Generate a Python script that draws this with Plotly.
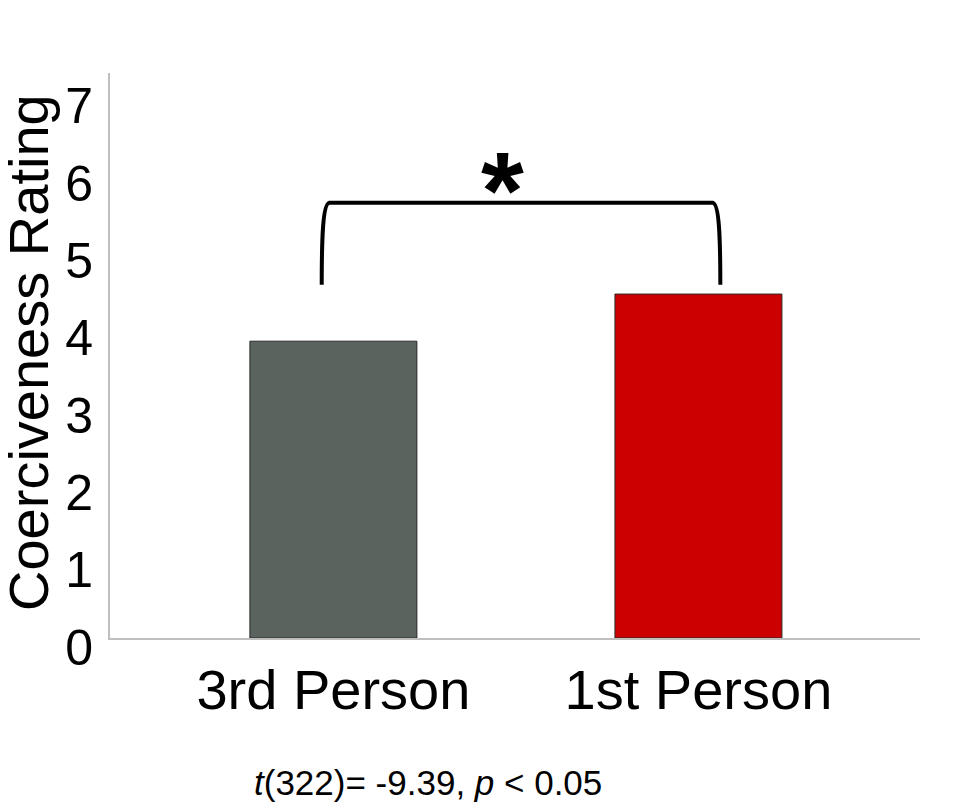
import plotly.graph_objects as go

# ---- data ----
categories = ["3rd Person", "1st Person"]
ratings = [3.84, 4.45]
bar_colors = ["#5A635E", "#CC0000"]
y_ticks = [0, 1, 2, 3, 4, 5, 6, 7]
y_title = "Coerciveness Rating"
stats_text = "<i>t</i>(322)= -9.39, <i>p</i> < 0.05"
sig_mark = "*"

# bracket geometry (data units)
bracket_left, bracket_right = -0.032, 1.06
bracket_base, bracket_top = 4.57, 5.63

FONT = "Liberation Sans, Arial, sans-serif"

x_pos = list(range(len(categories)))

fig = go.Figure()
fig.add_trace(go.Bar(
    x=x_pos, y=ratings, width=0.4575,
    marker=dict(color=bar_colors, line=dict(color="#2a2a2a", width=1)),
    showlegend=False, hoverinfo="skip",
))

# bracket path
xl, xr, yb, yt = bracket_left, bracket_right, bracket_base, bracket_top
dx = 0.02
path = (f"M {xl},{yb} C {xl},{yb + 0.6} {xl + 0.003},{yt - 0.02} {xl + dx},{yt} "
        f"L {xr - dx},{yt} C {xr - 0.003},{yt - 0.02} {xr},{yb + 0.6} {xr},{yb}")
fig.add_shape(type="path", path=path, xref="x", yref="y",
              line=dict(color="black", width=4))

fig.add_annotation(x=(xl + xr) / 2 - 0.05, y=yt + 0.17, xref="x", yref="y",
                   text=f"<b>{sig_mark}</b>", showarrow=False,
                   font=dict(family=FONT, size=110, color="black"),
                   xanchor="center", yanchor="middle")

fig.add_annotation(x=(428 - 110) / 810, y=(638 - 782) / 565, xref="paper", yref="paper",
                   text=stats_text, showarrow=False,
                   font=dict(family=FONT, size=35, color="black"),
                   xanchor="center", yanchor="middle")

fig.add_annotation(x=(28 - 110) / 810, y=(638 - 353) / 565, xref="paper", yref="paper",
                   text=y_title, textangle=-90, showarrow=False,
                   font=dict(family=FONT, size=56, color="black"),
                   xanchor="center", yanchor="middle")

fig.update_xaxes(
    range=[-0.612, 1.607], tickvals=x_pos, ticktext=categories,
    showline=True, linecolor="#BFBFBF", linewidth=2, showgrid=False,
    zeroline=False, ticks="", ticklabelstandoff=2,
    tickfont=dict(family=FONT, size=56, color="black"),
)
fig.update_yaxes(
    range=[0, 7.31], tickvals=y_ticks, ticktext=[str(t) for t in y_ticks],
    showline=True, linecolor="#BFBFBF", linewidth=2, showgrid=False,
    zeroline=False, ticks="", ticklabelstandoff=5, ticklabelshift=9,
    tickfont=dict(family=FONT, size=50, color="black"),
)
fig.update_layout(
    width=960, height=809,
    margin=dict(l=110, r=40, t=73, b=171),
    plot_bgcolor="white", paper_bgcolor="white",
    font=dict(family=FONT, color="black"),
)
fig.write_html("out.html")
